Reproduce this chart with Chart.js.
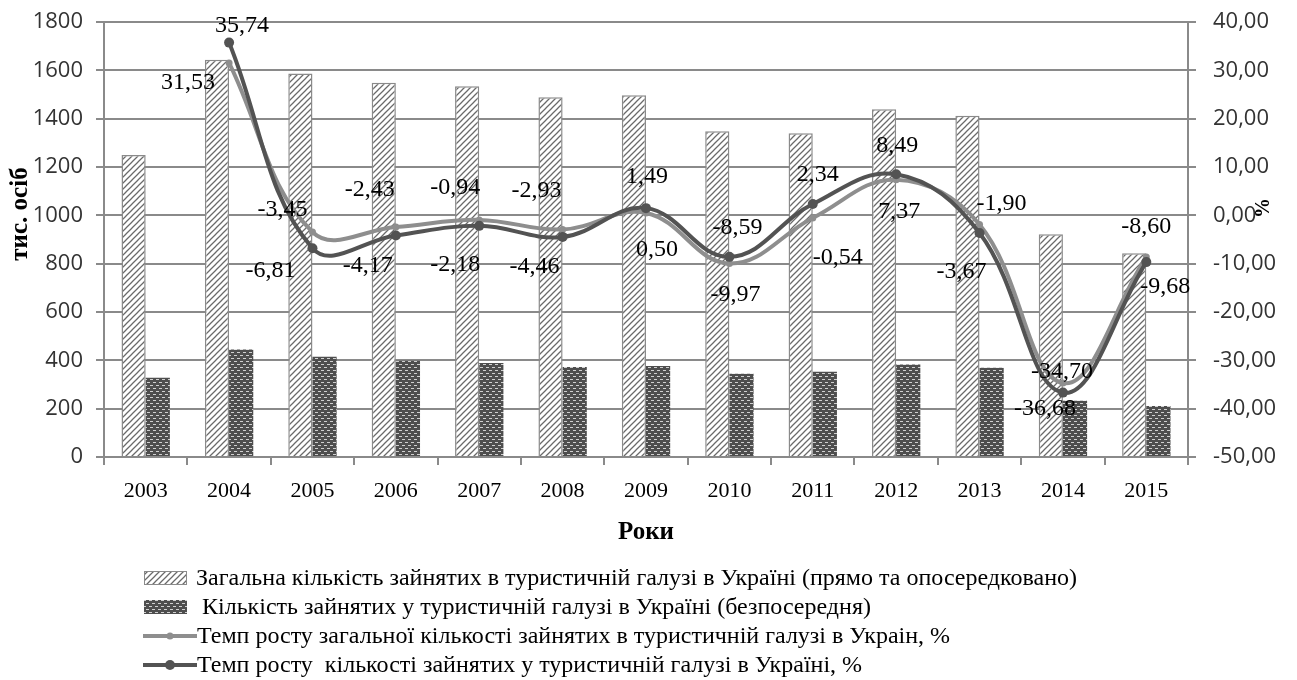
<!DOCTYPE html>
<html><head><meta charset="utf-8">
<script src="https://cdn.jsdelivr.net/npm/chart.js@4.4.1/dist/chart.umd.min.js"></script>
<style>
html,body{margin:0;padding:0;background:#fff;width:1297px;height:680px;overflow:hidden;}
#wrap{position:relative;width:1297px;height:680px;}
#c{position:absolute;left:0;top:0;}
#legend{position:absolute;left:143px;top:563px;font-family:"Liberation Serif","Times New Roman",serif;font-size:24px;color:#000;}
.row{height:29px;display:flex;align-items:center;white-space:pre;}
.row canvas{display:block;}
</style></head>
<body><div id="wrap"><canvas id="c" width="1297" height="548"></canvas><div id="legend"></div></div>
<script>
// ---- data ----
const years = ['2003','2004','2005','2006','2007','2008','2009','2010','2011','2012','2013','2014','2015'];
const totalEmployed  = [1250,1644,1587,1549,1534,1489,1497,1348,1340,1439,1412,922,843];
const directEmployed = [328,445,415,398,389,372,377,345,353,383,369,233,211];
const totalGrowth  = [null,31.53,-3.45,-2.43,-0.94,-2.93,0.50,-9.97,-0.54,7.37,-1.90,-34.70,-8.60];
const directGrowth = [null,35.74,-6.81,-4.17,-2.18,-4.46,1.49,-8.59,2.34,8.49,-3.67,-36.68,-9.68];
const leftTicks  = [0,200,400,600,800,1000,1200,1400,1600,1800];
const rightTicks = [-50,-40,-30,-20,-10,0,10,20,30,40];
const seriesNames = [
  'Загальна кількість зайнятих в туристичній галузі в Україні (прямо та опосередковано)',
  ' Кількість зайнятих у туристичній галузі в Україні (безпосередня)',
  'Темп росту загальної кількості зайнятих в туристичній галузі в Украін, %',
  'Темп росту  кількості зайнятих у туристичній галузі в Україні, %'
];
const leftTitle = 'тис. осіб';
const rightTitle = '%';
const xTitle = 'Роки';

// ---- label placement (text centre offset from point, px) ----
const directLabelOffsets = [null,[13,-17],[-42,22],[-28,30],[-24,39],[-28,30],[1,-31],[8,-29],[5,-29],[1,-29],[-18,39],[-18,16],[19,25]];
const totalLabelOffsets  = [null,[-41,20],[-30,-22],[-26,-37],[-24,-32],[-26,-39],[11,37],[6,31],[25,40],[3,32],[22,-21],[-1,-11],[0,-30]];

// ---- patterns ----
function hatchPattern(){
  const c=document.createElement('canvas');c.width=6;c.height=6;const x=c.getContext('2d');
  x.fillStyle='#fff';x.fillRect(0,0,6,6);
  x.strokeStyle='#6a6a6a';x.lineWidth=1.25;
  x.beginPath();x.moveTo(0,6);x.lineTo(6,0);x.moveTo(-1,1);x.lineTo(1,-1);x.moveTo(5,7);x.lineTo(7,5);x.stroke();
  return x.createPattern(c,'repeat');
}
function brickPattern(){
  const c=document.createElement('canvas');c.width=6;c.height=6;const x=c.getContext('2d');
  x.fillStyle='#4e4e4e';x.fillRect(0,0,6,6);
  x.fillStyle='#d0d0d0';x.fillRect(0,1,3,1);x.fillRect(3,4,3,1);
  return x.createPattern(c,'repeat');
}
const hatch=hatchPattern(), brick=brickPattern();
const gridGray='#8a8a8a';
const lightLine='#8e8e8e', darkLine='#535353';

const fmt = v => v.toFixed(2).replace('.',',');

const labelPlugin = {
  id:'valueLabels',
  afterDatasetsDraw(chart){
    const ctx=chart.ctx;
    ctx.save();
    ctx.font='24px "Liberation Serif","Times New Roman",serif';
    ctx.fillStyle='#000';ctx.textAlign='center';ctx.textBaseline='middle';
    [[2,totalGrowth,totalLabelOffsets],[3,directGrowth,directLabelOffsets]].forEach(([di,vals,offs])=>{
      const meta=chart.getDatasetMeta(di);
      meta.data.forEach((pt,i)=>{
        if(vals[i]==null) return;
        const o=offs[i]||[0,-20];
        ctx.fillText(fmt(vals[i]), pt.x+o[0], pt.y+o[1]);
      });
    });
    ctx.restore();
  },
  afterDraw(chart){
    const ctx=chart.ctx, a=chart.chartArea, y1=chart.scales.y1;
    ctx.save();
    ctx.fillStyle='#000';ctx.textAlign='center';ctx.textBaseline='middle';
    ctx.font='bold 25px "Liberation Serif","Times New Roman",serif';
    ctx.translate(21, a.top+192);ctx.rotate(-Math.PI/2);ctx.fillText(leftTitle,0,0);
    ctx.restore();
    ctx.save();
    ctx.fillStyle='#000';ctx.textAlign='center';ctx.textBaseline='middle';
    ctx.font='bold 20px "Liberation Serif","Times New Roman",serif';
    ctx.translate(a.right+76, y1.getPixelForValue(1.5));ctx.rotate(-Math.PI/2);ctx.fillText(rightTitle,0,0);
    ctx.restore();
  }
};

function fixY(w){return s=>{s.width=w;s.paddingTop=0;s.paddingBottom=0;};}

new Chart(document.getElementById('c'),{
  data:{
    labels:years,
    datasets:[
      {type:'bar',label:seriesNames[0],data:totalEmployed,yAxisID:'y',backgroundColor:hatch,borderColor:'#8a8a8a',borderWidth:1.5,order:3,categoryPercentage:0.58,barPercentage:1},
      {type:'bar',label:seriesNames[1],data:directEmployed,yAxisID:'y',backgroundColor:brick,borderWidth:0,order:4,categoryPercentage:0.58,barPercentage:1},
      {type:'line',label:seriesNames[2],data:totalGrowth,yAxisID:'y1',borderColor:lightLine,backgroundColor:lightLine,borderWidth:4,pointRadius:3.5,pointBackgroundColor:lightLine,pointBorderWidth:0,tension:0.4,order:2},
      {type:'line',label:seriesNames[3],data:directGrowth,yAxisID:'y1',borderColor:darkLine,backgroundColor:darkLine,borderWidth:4,pointRadius:5,pointBackgroundColor:darkLine,pointBorderWidth:0,tension:0.4,order:1}
    ]
  },
  options:{
    responsive:false,animation:false,
    layout:{padding:{top:22,left:0,right:0,bottom:0}},
    plugins:{legend:{display:false},tooltip:{enabled:false}},
    scales:{
      x:{
        grid:{display:true,drawOnChartArea:false,drawTicks:true,tickLength:8,color:gridGray,lineWidth:2},
        border:{display:true,color:gridGray,width:2},
        ticks:{color:'#000',font:{family:'"Liberation Serif","Times New Roman",serif',size:22},padding:13},
        title:{display:true,text:xTitle,color:'#000',font:{family:'"Liberation Serif","Times New Roman",serif',size:25,weight:'bold'},padding:{top:0,bottom:0}},
        afterFit(s){s.height=91;s.paddingLeft=0;s.paddingRight=0;}
      },
      y:{
        position:'left',min:0,max:1800,
        afterBuildTicks(s){s.ticks=leftTicks.map(v=>({value:v}));},
        grid:{color:gridGray,lineWidth:2,tickLength:8},
        border:{display:true,color:gridGray,width:2},
        ticks:{color:'#333',font:{family:'"Open Sans",sans-serif',size:22},padding:13,callback:v=>String(v)},
        afterFit:fixY(104)
      },
      y1:{
        position:'right',min:-50,max:40,
        afterBuildTicks(s){s.ticks=rightTicks.map(v=>({value:v}));},
        grid:{drawOnChartArea:false,color:gridGray,lineWidth:2,tickLength:8},
        border:{display:true,color:gridGray,width:2},
        ticks:{color:'#333',font:{family:'"Open Sans",sans-serif',size:22},padding:17,callback:v=>fmt(v)},
        afterFit:fixY(109)
      }
    }
  },
  plugins:[labelPlugin]
});

// ---- HTML legend ----
const legend=document.getElementById('legend');
seriesNames.forEach((name,i)=>{
  const row=document.createElement('div');row.className='row';
  const sw=document.createElement('canvas');
  const ctx=sw.getContext('2d');
  if(i<2){
    sw.width=46;sw.height=16;sw.style.marginRight='7px';
    ctx.fillStyle=i===0?hatch:brick;ctx.fillRect(1,1,43,14);
    if(i===0){ctx.strokeStyle='#8a8a8a';ctx.lineWidth=1;ctx.strokeRect(1.5,1.5,42,13);}
  } else {
    sw.width=54;sw.height=16;sw.style.marginRight='0px';
    const col=i===2?lightLine:darkLine;
    ctx.strokeStyle=col;ctx.lineWidth=4;ctx.beginPath();ctx.moveTo(0,8);ctx.lineTo(54,8);ctx.stroke();
    ctx.fillStyle=col;ctx.beginPath();ctx.arc(27,8,i===2?3.5:5,0,Math.PI*2);ctx.fill();
  }
  row.appendChild(sw);
  const t=document.createElement('span');t.textContent=name;row.appendChild(t);
  legend.appendChild(row);
});
</script>
</body></html>
